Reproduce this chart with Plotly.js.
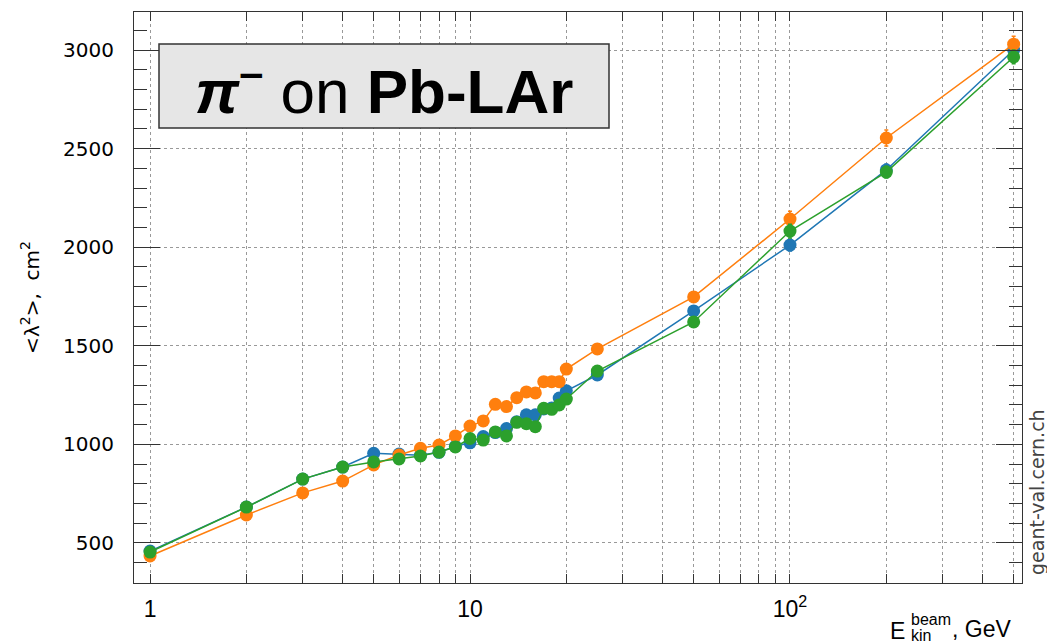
<!DOCTYPE html>
<html>
<head>
<meta charset="utf-8">
<script src="https://cdn.plot.ly/plotly-3.0.1.min.js"></script>
<style>html,body{margin:0;padding:0;background:#fff;}#chart{width:1047px;height:643px;}</style>
</head>
<body>
<div id="chart"></div>
<script>
// Beam kinetic energies, GeV
var energies = [1,2,3,4,5,6,7,8,9,10,11,12,13,14,15,16,17,18,19,20,25,50,100,200,500];
// <lambda^2>, cm^2
var seriesBlue   = [459,682,824,885,955,951,945,960,990,1008,1040,1060,1080,1115,1150,1150,1180,1185,1235,1272,1352,1677,2011,2392,3000];
var seriesOrange = [434,642,754,814,896,946,980,997,1043,1093,1119,1203,1192,1237,1266,1261,1318,1318,1318,1382,1484,1748,2143,2554,3030];
var seriesGreen  = [454,682,824,885,911,926,941,961,987,1030,1022,1063,1043,1112,1105,1090,1183,1178,1200,1230,1372,1621,2082,2381,2965];
var errBlue   = [8,8,8,8,8,8,8,8,8,8,8,8,8,8,8,8,8,8,8,10,12,20,30,30,35];
var errOrange = [8,8,8,8,8,8,8,8,8,8,8,8,8,8,8,8,8,8,8,10,12,25,40,40,40];
var errGreen  = [8,8,8,8,8,8,8,8,8,8,8,8,8,8,8,8,8,8,8,10,12,20,35,30,35];
var xMajorVals = [1,10,100];
var xMajorText = ['1','10','10<sup>2</sup>'];
var xMinorVals = [2,3,4,5,6,7,8,9,20,30,40,50,60,70,80,90,200,300,400,500];
var yTickVals = [500,1000,1500,2000,2500,3000];

var L=134, R=1022, T=12, B=583;
function px(x){return (x-L)/(R-L);}
function py(y){return (B-y)/(B-T);}

function mk(y, err, color){
  return {x: energies, y: y, type:'scatter', mode:'lines+markers',
    line:{color:color, width:1.5},
    marker:{color:color, size:13},
    error_y:{type:'data', array:err, visible:true, color:color, thickness:1.5, width:2},
    showlegend:false};
}
var data = [mk(seriesBlue, errBlue, '#1f77b4'), mk(seriesOrange, errOrange, '#ff7f0e'), mk(seriesGreen, errGreen, '#2ca02c')];

var font = 'Liberation Sans, Arial, sans-serif';
var wide = 'DejaVu Sans, sans-serif';
var xr = [Math.log10(0.891), Math.log10(531)];
var gridStyle = {showgrid:true, gridcolor:'#999', griddash:'dot', gridwidth:1};
var layout = {
  width:1047, height:643,
  margin:{l:L, r:1047-R, t:T, b:643-B, pad:0},
  paper_bgcolor:'#fff', plot_bgcolor:'#fff',
  font:{family:font, size:20, color:'#000'},
  xaxis:Object.assign({type:'log', range:xr,
    tickvals:xMinorVals.concat(xMajorVals), ticktext:xMinorVals.map(function(){return '';}).concat(xMajorText),
    ticks:'inside', ticklen:9, tickwidth:1, tickcolor:'#333',
    showline:true, linecolor:'#333', linewidth:1, mirror:'allticks',
    zeroline:false, tickfont:{size:23, family:font}, ticklabelstandoff:5}, gridStyle),
  xaxis2:{type:'log', range:xr, overlaying:'x', side:'bottom', anchor:'y',
    tickvals:xMajorVals, ticktext:['','',''], ticks:'inside', ticklen:18, tickwidth:1, tickcolor:'#333',
    showline:false, mirror:'allticks', showgrid:false, zeroline:false},
  yaxis:Object.assign({range:[297,3193], tickvals:yTickVals,
    ticks:'inside', ticklen:26, tickwidth:1, tickcolor:'#333',
    showline:true, linecolor:'#333', linewidth:1, mirror:'allticks',
    minor:{dtick:100, ticks:'inside', ticklen:13, tickcolor:'#333', showgrid:false},
    zeroline:false, tickfont:{size:20, family:wide}, ticklabelstandoff:15,
    title:{text:'<λ<sup>2</sup>>,  cm<sup>2</sup>', font:{size:20, family:wide}, standoff:18}}, gridStyle),
  shapes:[{type:'rect', xref:'paper', yref:'paper', x0:px(159), x1:px(609), y0:py(128), y1:py(44),
    fillcolor:'#e6e6e6', line:{color:'#333', width:1.5}, layer:'above'}],
  annotations:[
    {xref:'paper', yref:'paper', x:px(384), y:py(87), showarrow:false, xanchor:'center', yanchor:'middle',
     text:'<b><i>π</i></b><sup><b>–</b></sup> on <b>Pb-LAr</b>', font:{size:62, family:font, color:'#000'}},
    {xref:'paper', yref:'paper', x:px(907), y:py(631), showarrow:false, xanchor:'right', yanchor:'middle',
     text:'E', font:{size:23, family:font}},
    {xref:'paper', yref:'paper', x:px(909), y:py(619), showarrow:false, xanchor:'left', yanchor:'middle',
     text:'beam', font:{size:16, family:font}},
    {xref:'paper', yref:'paper', x:px(909), y:py(636), showarrow:false, xanchor:'left', yanchor:'middle',
     text:'kin', font:{size:16, family:font}},
    {xref:'paper', yref:'paper', x:px(950), y:py(629), showarrow:false, xanchor:'left', yanchor:'middle',
     text:', GeV', font:{size:23, family:font}},
    {xref:'paper', yref:'paper', x:px(1037), y:py(492), showarrow:false, xanchor:'center', yanchor:'middle',
     textangle:-90, text:'geant-val.cern.ch', font:{size:19, family:wide, color:'#444'}}
  ]
};
Plotly.newPlot('chart', data, layout, {staticPlot:true, displayModeBar:false});
</script>
</body>
</html>
